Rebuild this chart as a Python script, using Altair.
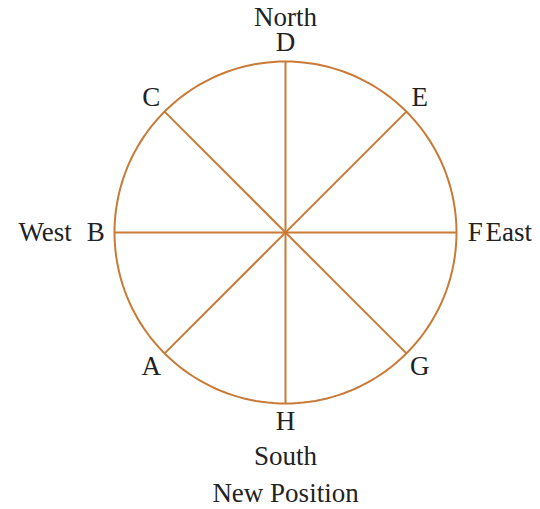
import altair as alt
import pandas as pd

# Point labels on the circle, with their compass angle in degrees
point_labels = ["F", "E", "D", "C", "B", "A", "H", "G"]
point_angles = [0, 45, 90, 135, 180, 225, 270, 315]

# Diameters drawn through the centre (start angle, degrees)
spoke_angles = [0, 45, 90, 135]

# Compass words
compass_words = ["North", "South", "West", "East"]
caption = "New Position"

COLOR = "#c97a36"
FONT = "Liberation Serif"
FS = 27
R_LABEL = 1.11

W, H = 524, 501
cx, cy, R = 277.5, 224.5, 171.0
xdom = [-cx / R, (W - cx) / R]
ydom = [(cy - H) / R, cy / R]
xs = alt.Scale(domain=xdom, nice=False, zero=False)
ys = alt.Scale(domain=ydom, nice=False, zero=False)
noax = None

circle = alt.Chart(alt.sequence(0, 362, 2, as_="deg")).transform_calculate(
    cxv="cos(datum.deg*PI/180)", cyv="sin(datum.deg*PI/180)"
).mark_line(color=COLOR, strokeWidth=2, clip=False).encode(
    x=alt.X("cxv:Q", scale=xs, axis=noax),
    y=alt.Y("cyv:Q", scale=ys, axis=noax),
    order="deg:Q",
)

spokes = alt.Chart(pd.DataFrame({"a": spoke_angles})).transform_calculate(
    x1="cos(datum.a*PI/180)", y1="sin(datum.a*PI/180)",
    x2="-cos(datum.a*PI/180)", y2="-sin(datum.a*PI/180)",
).mark_rule(color=COLOR, strokeWidth=2).encode(
    x=alt.X("x1:Q", scale=xs, axis=noax),
    y=alt.Y("y1:Q", scale=ys, axis=noax),
    x2="x2:Q", y2="y2:Q",
)

labels = alt.Chart(pd.DataFrame({"t": point_labels, "a": point_angles})).transform_calculate(
    lx=f"{R_LABEL}*cos(datum.a*PI/180)", ly=f"{R_LABEL}*sin(datum.a*PI/180)"
).mark_text(font=FONT, fontSize=FS, color="#222222", baseline="middle").encode(
    x=alt.X("lx:Q", scale=xs, axis=noax),
    y=alt.Y("ly:Q", scale=ys, axis=noax),
    text="t:N",
)

def word(text, x, y, align):
    return alt.Chart(pd.DataFrame({"t": [text], "x": [x], "y": [y]})).mark_text(
        font=FONT, fontSize=FS, color="#222222", baseline="middle", align=align
    ).encode(
        x=alt.X("x:Q", scale=xs, axis=noax),
        y=alt.Y("y:Q", scale=ys, axis=noax),
        text="t:N",
    )

north = word(compass_words[0], 0.0, 1.254, "center")
south = word(compass_words[1], 0.0, -1.31, "center")
west = word(compass_words[2], -1.25, 0.0, "right")
east = word(compass_words[3], 1.17, 0.0, "left")
cap = word(caption, 0.0, -1.53, "center")

chart = alt.layer(circle, spokes, labels, north, south, west, east, cap).properties(
    width=W, height=H, padding=0, autosize=alt.AutoSizeParams(type="none")
).configure_view(stroke=None)

chart.save("out.html", embed_options={"renderer": "svg", "actions": False})
